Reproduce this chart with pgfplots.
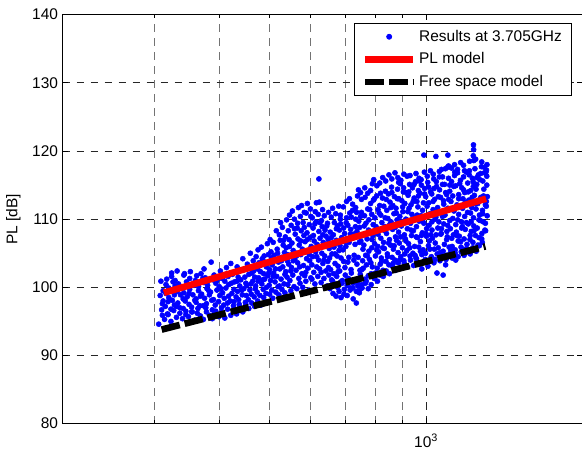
\documentclass[border=0pt]{standalone}
\usepackage{fontspec}
\setmainfont{Liberation Sans}
\usepackage{pgfplots}
\pgfplotsset{compat=1.18}
\newcommand{\fs}{\fontsize{11.6}{13.6}\selectfont}

\begin{document}
\begin{tikzpicture}
\begin{semilogxaxis}[
  scale only axis, width=390pt, height=306.75pt,
  xmin=200, xmax=2000, ymin=80, ymax=140,
  clip mode=individual,
  xtick={1000}, xticklabels={10\textsuperscript{3}},
  minor xtick={200,300,400,500,600,700,800,900,2000},
  ytick={80,90,...,140},
  /pgf/number format/assume math mode=true,
  tick align=inside, major tick length=4pt, minor tick length=2.5pt,
  tick style={black, line width=0.6pt},
  axis line style={line width=0.8pt},
  grid=both,
  major grid style={black!85, line width=0.55pt, dash pattern=on 5.5pt off 5pt},
  minor grid style={black!55, line width=0.55pt, dash pattern=on 5.5pt off 5pt},
  tick label style={font=\fs},
  xticklabel style={yshift=-4pt},
  ylabel={PL [dB]},
  ylabel style={font=\fs, at={(axis description cs:-0.0946,0.5)}, anchor=center, rotate=0},
  legend cell align=left,
  legend image code/.code={\draw[mark repeat=2,mark phase=2,#1] plot coordinates {(0pt,0pt) (18pt,0pt) (36pt,0pt)};},
  legend style={font=\fs, draw=black, line width=0.6pt, fill=white,
    at={(axis description cs:0.980,0.9804)}, anchor=north east,
    inner xsep=5.5pt, inner ysep=3pt, row sep=2.5pt,
    nodes={inner xsep=2pt, inner ysep=1.5pt, text height=9pt, text depth=2.5pt}},
]
% measured path loss, distance [m] vs PL [dB]
\addplot[only marks, mark=*, mark size=1.9pt, color=blue, mark options={draw=blue, fill=blue}] coordinates {
(306,94.6) (311,95.9) (308,98.8) (312,99.5) (309,100.9)
(310,96.7) (315,97.2) (312,98.0) (316,100.4)
(314,95.3) (319,97.9) (316,99.1) (320,99.9) (317,101.2)
(318,96.1) (323,96.8) (320,98.5) (324,101.6)
(323,95.0) (328,97.4) (325,98.1) (329,100.2) (326,100.8) (324,102.1)
(327,96.6) (332,99.4) (329,101.0)
(331,95.6) (336,96.2) (333,97.7) (337,98.9) (334,100.5) (332,102.4)
(336,97.0) (341,98.3) (338,99.9) (342,101.8)
(340,95.4) (345,96.5) (342,99.2) (346,100.8) (343,102.0)
(345,96.0) (350,97.5) (347,98.6) (351,101.3)
(349,95.7) (354,97.1) (351,99.7) (355,100.4) (352,102.3)
(354,96.4) (359,98.1) (356,98.9) (360,101.0)
(359,95.2) (364,96.9) (361,97.8) (365,99.5) (362,101.7)
(363,96.2) (368,98.7) (365,100.1) (369,102.0)
(368,95.8) (373,97.3) (370,99.0) (374,100.7)
(373,95.3) (378,96.4) (375,98.4) (379,99.8) (376,101.4) (374,102.7)
(378,97.6) (383,98.9) (380,100.3)
(383,95.9) (388,96.7) (385,99.3) (389,101.1) (386,103.7)
(388,95.4) (393,97.4) (390,98.2) (394,100.6) (391,101.8)
(394,96.5) (399,97.9) (396,99.6) (400,100.1)
(399,95.7) (404,97.0) (401,98.8) (405,101.3) (402,102.4)
(404,96.3) (409,98.4) (406,99.2) (410,100.9)
(410,95.5) (415,97.7) (412,99.9) (416,101.6) (413,102.9)
(415,96.8) (420,98.0) (417,100.4) (421,103.5)
(421,95.9) (426,97.3) (423,99.1) (427,99.7) (424,101.9)
(426,96.6) (431,98.6) (428,100.8) (432,102.2)
(432,96.1) (437,97.5) (434,99.4) (438,100.2) (435,101.5) (433,103.0)
(438,97.1) (443,98.9) (440,101.1) (444,104.2)
(444,96.4) (449,97.8) (446,99.8) (450,100.6) (447,102.6)
(450,97.5) (455,98.2) (452,100.3) (456,101.9) (453,103.4)
(456,96.9) (461,99.0) (458,99.6) (462,102.1) (459,105.0)
(462,97.7) (467,98.6) (464,100.9) (468,101.5) (465,103.9)
(468,97.2) (473,99.3) (470,100.2) (474,102.7) (471,104.5)
(474,98.0) (479,98.8) (476,101.4) (480,102.3) (477,103.6) (475,105.5)
(481,97.4) (486,99.7) (483,100.5) (487,102.0) (484,104.2) (482,105.9)
(487,98.5) (492,99.1) (489,101.2) (493,103.0) (490,103.7)
(494,97.9) (499,100.3) (496,101.7) (500,102.6) (497,104.8) (495,106.4)
(500,99.0) (505,99.6) (502,101.0) (506,103.3) (503,105.2) (501,107.0)
(507,98.4) (512,100.8) (509,102.1) (513,104.1) (510,104.7) (508,106.6)
(514,99.3) (519,100.1) (516,101.6) (520,103.7) (517,105.6) (515,108.3)
(521,98.9) (526,101.2) (523,102.7) (527,104.4) (524,106.9) (522,107.7) (525,109.5)
(528,99.7) (533,100.5) (530,103.0) (534,105.1) (531,106.2) (529,108.8)
(535,99.2) (540,101.5) (537,102.3) (541,103.9) (538,105.8) (536,107.4) (539,109.9)
(542,100.4) (547,101.0) (544,103.4) (548,104.7) (545,107.0) (543,108.3) (546,110.6)
(549,99.5) (554,101.8) (551,102.9) (555,105.4) (552,106.5) (550,109.1) (553,111.2)
(557,100.1) (562,102.5) (559,104.1) (563,105.0) (560,107.8) (558,110.0)
(564,99.8) (569,101.3) (566,103.6) (570,106.2) (567,107.1) (565,108.7) (568,111.7)
(572,100.6) (577,102.0) (574,104.8) (578,105.6) (575,108.3) (573,110.4) (576,112.0)
(579,100.0) (584,101.7) (581,103.2) (585,106.7) (582,107.6) (580,109.5) (583,111.0)
(587,100.9) (592,102.8) (589,104.2) (593,105.3) (590,108.0) (588,110.9) (591,112.3)
(595,99.6) (600,101.4) (597,103.9) (601,106.0) (598,107.3) (596,109.2) (599,111.5)
(603,101.2) (608,102.2) (605,104.5) (609,106.8) (606,108.7) (604,110.2)
(611,100.5) (616,103.0) (613,105.2) (617,106.3) (614,109.6) (612,111.1) (615,112.4)
(619,101.6) (624,102.7) (621,104.0) (625,107.2) (622,108.2) (620,110.7) (623,112.5) (622,115.9)
(628,100.7) (633,103.5) (630,105.0) (634,106.6) (631,108.9) (629,109.8) (632,111.4)
(636,101.3) (641,102.4) (638,104.6) (642,107.5) (639,108.4) (637,110.5)
(645,100.2) (650,101.8) (647,103.8) (651,105.7) (648,107.0) (646,109.4) (649,111.0)
(653,99.8) (658,101.1) (655,102.6) (659,104.9) (656,106.4) (654,108.1) (657,110.3)
(662,99.1) (667,100.5) (664,102.0) (668,103.5) (665,105.9) (663,107.7) (666,109.5) (661,111.6)
(671,98.7) (676,100.0) (673,101.6) (677,103.1) (674,104.6) (672,106.9) (675,109.0) (670,110.8)
(680,99.4) (685,100.8) (682,102.4) (686,104.3) (683,106.1) (681,108.4) (684,110.0) (679,111.9)
(686,98.5) (696,99.7) (690,101.0) (698,102.9) (692,105.5) (688,107.3) (694,108.7) (684,110.6)
(695,99.0) (705,100.3) (699,101.8) (707,103.7) (701,106.0) (697,107.9) (703,110.2) (693,111.8)
(705,98.8) (715,99.9) (709,101.3) (717,102.6) (711,106.6) (707,109.1) (713,110.9) (703,112.6)
(714,99.6) (724,100.6) (718,102.1) (726,104.0) (720,107.4) (716,108.5) (722,111.3) (712,113.0)
(724,98.3) (734,99.4) (728,101.0) (736,103.4) (730,106.3) (726,107.8) (732,110.0) (722,112.2) (738,113.4)
(734,97.7) (744,99.2) (738,100.7) (746,102.5) (740,104.4) (736,108.2) (742,109.7) (732,111.7) (748,113.9)
(743,99.5) (753,100.4) (747,101.9) (755,103.9) (749,106.8) (745,108.8) (751,111.0) (741,114.3)
(753,99.9) (763,101.2) (757,102.8) (765,104.7) (759,106.2) (755,107.6) (761,110.5) (751,112.9)
(764,100.6) (774,101.7) (768,103.3) (776,105.3) (770,107.1) (766,109.4) (772,111.5) (762,114.6)
(774,99.8) (784,102.0) (778,104.1) (786,105.8) (780,108.0) (776,109.9) (782,112.3) (772,113.8) (788,115.2)
(784,100.4) (794,101.5) (788,103.0) (796,106.4) (790,107.6) (786,110.7) (792,112.8) (782,114.2)
(795,101.3) (805,102.8) (799,104.6) (807,106.0) (801,108.9) (797,110.2) (803,113.4) (793,115.8)
(806,100.9) (816,103.4) (810,105.2) (818,107.2) (812,108.4) (808,111.4) (814,112.0) (804,114.9)
(816,101.8) (826,102.5) (820,104.3) (828,106.6) (822,109.5) (818,110.6) (824,113.1) (814,115.3)
(827,101.6) (837,103.8) (831,105.7) (839,107.9) (833,108.9) (829,111.9) (835,114.1) (825,116.1)
(838,102.4) (848,103.3) (842,104.9) (850,107.0) (844,110.1) (840,111.3) (846,113.7) (836,115.6)
(850,102.0) (860,104.4) (854,106.2) (862,108.5) (856,109.6) (852,112.5) (858,114.7) (848,116.5)
(861,103.1) (871,104.0) (865,105.6) (873,107.4) (867,110.8) (863,112.0) (869,113.3) (859,115.9)
(873,102.5) (883,105.1) (877,106.9) (885,108.1) (879,109.9) (875,111.6) (881,114.4) (871,116.8)
(884,103.6) (894,104.5) (888,106.5) (896,109.0) (890,110.4) (886,113.0) (892,115.2) (882,116.1)
(896,102.8) (906,103.9) (900,105.8) (908,107.7) (902,111.1) (898,112.7) (904,114.0) (894,115.7)
(908,103.5) (918,105.4) (912,107.1) (920,108.6) (914,110.0) (910,112.3) (916,113.9) (906,116.6)
(921,103.0) (931,104.6) (925,106.4) (933,109.4) (927,111.6) (923,113.5) (929,115.1) (919,116.3)
(933,104.0) (943,105.0) (937,107.6) (945,108.3) (939,110.7) (935,112.1) (941,114.6) (931,116.4)
(946,103.2) (956,104.3) (950,106.0) (958,108.9) (952,110.2) (948,113.1) (954,115.5)
(958,104.2) (968,105.9) (962,107.3) (970,109.7) (964,111.8) (960,112.6) (966,114.2) (956,116.7)
(971,103.4) (981,104.8) (975,106.7) (983,108.0) (977,110.5) (973,113.8) (979,115.0) (969,116.0)
(981,102.7) (996,104.1) (987,105.5) (999,107.9) (990,109.4) (984,111.3) (993,114.5) (978,115.8) (990,119.4)
(995,103.8) (1010,106.1) (1001,107.5) (1013,109.1) (1004,111.9) (998,113.3) (1007,115.4) (992,116.9)
(1008,103.1) (1023,104.5) (1014,106.8) (1026,108.4) (1017,110.8) (1011,112.4) (1020,114.0) (1005,116.3)
(1022,104.3) (1037,105.6) (1028,107.2) (1040,110.0) (1031,111.4) (1025,113.7) (1034,115.9) (1019,117.1)
(1035,103.6) (1050,104.9) (1041,106.5) (1053,108.7) (1044,110.3) (1038,112.9) (1047,114.8) (1032,116.6) (1044,119.2)
(1049,102.1) (1064,104.4) (1055,105.8) (1067,107.8) (1058,109.6) (1052,111.7) (1061,114.3) (1046,115.5) (1070,117.3)
(1063,103.9) (1078,105.3) (1069,107.9) (1081,109.3) (1072,111.0) (1066,113.2) (1075,115.1) (1060,117.0)
(1078,101.8) (1093,104.7) (1084,106.3) (1096,108.2) (1087,110.6) (1081,112.2) (1090,113.9) (1075,116.2) (1099,117.6)
(1092,104.1) (1107,105.9) (1098,107.4) (1110,109.8) (1101,111.6) (1095,113.6) (1104,116.0) (1089,117.4) (1101,119.4)
(1107,104.8) (1122,106.0) (1113,108.6) (1125,110.1) (1116,112.6) (1110,114.1) (1119,115.5) (1104,117.8)
(1122,104.3) (1137,105.5) (1128,107.7) (1140,109.2) (1131,111.2) (1125,113.4) (1134,116.4) (1119,117.5)
(1137,105.0) (1152,106.8) (1143,108.1) (1155,110.7) (1146,112.1) (1140,114.9) (1149,116.8) (1134,118.0)
(1152,104.5) (1167,105.9) (1158,107.5) (1170,109.6) (1161,111.9) (1155,113.6) (1164,115.7) (1149,117.3)
(1168,105.2) (1183,107.1) (1174,108.9) (1186,110.4) (1177,113.0) (1171,114.6) (1180,116.2) (1165,118.3)
(1183,104.7) (1198,106.3) (1189,108.5) (1201,111.0) (1192,112.5) (1186,113.9) (1195,116.9) (1180,117.9)
(1199,105.6) (1214,107.0) (1205,109.3) (1217,110.9) (1208,112.8) (1202,115.3) (1211,117.1)
(1215,104.9) (1230,106.6) (1221,108.2) (1233,110.2) (1224,111.7) (1218,114.2) (1227,116.0) (1212,118.5)
(1233,120.9) (1234,120.2) (1232,119.3) (1235,118.6)
(1229,105.8) (1244,107.6) (1235,109.0) (1247,111.5) (1238,113.5) (1232,114.8) (1241,117.4)
(1248,105.3) (1263,107.3) (1254,108.7) (1266,110.6) (1257,112.3) (1251,115.1) (1260,116.5) (1245,118.8)
(1265,106.1) (1280,107.9) (1271,109.8) (1283,111.3) (1274,113.2) (1268,115.8) (1277,117.7)
(1282,106.6) (1297,108.4) (1288,109.6) (1300,112.1) (1291,114.4) (1285,115.6) (1294,117.6) (1279,118.4)
(1301,108.3) (1310,110.5) (1305,111.9) (1311,113.3) (1308,115.0) (1303,116.9) (1309,118.0)
(311,97.6) (319,96.0) (322,99.6) (328,98.9) (331,97.2) (337,100.0) (341,96.9) (344,98.0) (350,99.1) (355,96.4)
(358,100.3) (361,98.3) (367,97.3) (372,101.3) (377,97.0) (382,99.5) (387,98.1) (392,96.2) (396,101.0) (403,99.8)
(408,97.4) (411,101.9) (417,98.7) (422,100.6) (427,97.9) (433,100.9) (436,98.2) (442,99.6) (448,101.5) (451,98.8)
(457,103.0) (460,100.5) (466,102.4) (469,99.8) (475,100.9) (479,103.2) (485,101.1) (488,104.6) (493,100.0) (498,102.1)
(504,104.3) (508,101.6) (513,102.7) (518,105.0) (522,100.2) (527,103.9) (532,106.9) (535,101.9) (541,104.8) (546,106.0)
(549,102.4) (555,103.9) (558,108.6) (563,104.6) (566,109.4) (571,103.0) (574,106.8) (579,105.3) (583,108.8) (587,102.2)
(591,107.0) (596,104.8) (600,110.4) (603,103.3) (607,107.6) (611,109.3) (616,104.5) (619,105.9) (625,109.5) (628,102.2)
(633,107.7) (636,104.0) (641,106.1) (644,109.0) (649,102.9) (652,104.3) (657,107.3) (661,100.9) (668,104.9) (672,108.6)
(677,102.3) (680,105.4) (685,109.3) (689,100.6) (694,103.8) (698,106.7) (702,109.5) (706,100.9) (710,104.4) (715,107.8)
(718,110.3) (723,99.9) (727,104.7) (731,108.9) (735,111.0) (739,100.2) (744,106.6) (748,110.4) (752,102.6) (756,105.6)
(760,109.0) (763,113.2) (767,100.9) (771,104.6) (775,108.4) (779,111.4) (783,103.6) (787,107.0) (791,109.2) (795,113.0)
(799,102.1) (803,105.5) (808,107.8) (812,110.9) (817,113.8) (821,103.8) (825,105.8) (829,108.4) (834,110.2) (838,112.9)
(843,104.5) (847,106.5) (851,109.2) (855,111.7) (859,113.9) (864,103.5) (868,106.1) (872,108.8) (876,110.9) (880,113.0)
(885,115.4) (889,104.0) (893,107.4) (897,109.6) (901,111.8) (905,114.6) (910,104.9) (914,106.8) (918,109.9) (922,111.1)
(926,114.0) (930,105.8) (935,108.4) (939,109.9) (944,112.6) (948,115.1) (952,104.7) (957,107.4) (961,110.6) (966,113.4)
(970,115.6) (975,105.3) (979,107.6) (984,109.8) (988,112.4) (993,113.7) (997,105.0) (1002,108.6) (1007,110.6) (1011,114.7)
(1016,105.6) (1021,107.7) (1026,109.6) (1031,112.6) (1035,114.5) (1040,104.1) (1045,107.7) (1050,111.1) (1055,113.3) (1060,116.2)
(1065,105.1) (1070,108.6) (1075,110.4) (1080,112.7) (1085,115.1) (1090,103.3) (1095,107.0) (1100,109.1) (1105,112.9) (1110,115.0)
(1115,105.4) (1120,107.2) (1125,111.5) (1130,114.8) (1135,116.9) (1140,104.0) (1145,107.6) (1150,109.9) (1155,113.0) (1160,115.2)
(1165,106.7) (1170,108.7) (1175,111.6) (1180,114.3) (1185,117.1) (1190,105.6) (1195,109.5) (1200,112.2) (1205,114.0) (1210,116.5)
(1215,107.6) (1220,109.6) (1226,113.2) (1231,115.5) (1236,108.3) (1242,112.3) (1247,114.4) (1252,116.1) (1258,106.2) (1263,109.9)
(1268,112.9) (1273,116.7) (1279,107.1) (1284,110.8) (1289,113.4) (1294,116.8) (1300,109.4) (1305,112.6) (1308,116.3) (1306,117.2)
};
\addlegendentry{Results at 3.705GHz}
\addplot[red, line width=5pt] coordinates {(313,99.2) (1304,113.0)};
\addlegendentry{PL model}
\addplot[black, line width=5pt, dash pattern=on 14pt off 3.8pt] coordinates {(310,93.8) (1300,106.0)};
\addlegendentry{Free space model}
\end{semilogxaxis}
\pgfresetboundingbox
\useasboundingbox (-47pt,-20.25pt) rectangle (389.5pt,317.75pt);
\end{tikzpicture}
\end{document}
